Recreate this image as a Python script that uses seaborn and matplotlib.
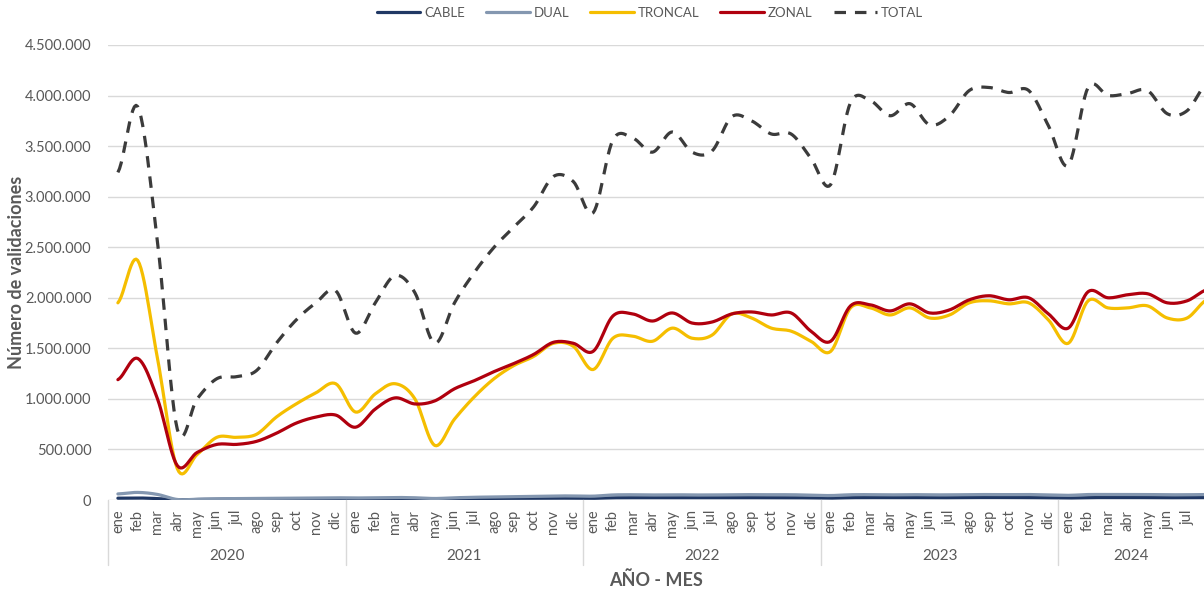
import numpy as np
import pandas as pd
import matplotlib
matplotlib.use("Agg")
import matplotlib.pyplot as plt
import matplotlib.transforms as mtrans
from matplotlib.ticker import FuncFormatter
import seaborn as sns

# ---------------- data ----------------
months = ["ene", "feb", "mar", "abr", "may", "jun", "jul", "ago", "sep", "oct", "nov", "dic"]
years = ["2020", "2021", "2022", "2023", "2024"]
months_2024 = 8  # ene..ago 2024

cable = [18, 20, 14, 2, 5, 8, 9, 10, 11, 12, 13, 13,
         12, 13, 14, 12, 10, 13, 15, 16, 17, 18, 19, 18,
         17, 22, 23, 22, 23, 22, 22, 23, 23, 23, 23, 21,
         19, 23, 24, 23, 24, 23, 23, 24, 25, 24, 24, 22,
         20, 24, 24, 24, 24, 23, 23, 24]
dual = [60, 75, 55, 5, 8, 12, 14, 15, 17, 19, 21, 22,
        20, 23, 25, 22, 15, 22, 27, 30, 33, 36, 40, 40,
        38, 50, 52, 50, 52, 50, 50, 52, 53, 52, 52, 48,
        44, 52, 53, 51, 53, 51, 51, 53, 54, 53, 54, 50,
        46, 54, 54, 54, 54, 52, 52, 54]
troncal = [1950, 2370, 1400, 310, 450, 620, 620, 650, 820, 950, 1060, 1150,
           870, 1050, 1150, 1000, 540, 800, 1020, 1200, 1330, 1420, 1550, 1520,
           1290, 1600, 1620, 1570, 1700, 1600, 1630, 1840, 1800, 1700, 1670, 1570,
           1470, 1900, 1900, 1830, 1900, 1800, 1830, 1950, 1970, 1940, 1950, 1780,
           1550, 1970, 1900, 1900, 1920, 1800, 1800, 1980]
zonal = [1190, 1400, 1000, 340, 470, 550, 550, 580, 660, 760, 820, 840,
         720, 900, 1010, 950, 980, 1100, 1180, 1270, 1350, 1440, 1560, 1550,
         1470, 1820, 1840, 1770, 1850, 1750, 1760, 1840, 1860, 1830, 1850, 1670,
         1570, 1920, 1930, 1870, 1940, 1850, 1880, 1980, 2020, 1980, 2000, 1840,
         1700, 2060, 2000, 2030, 2040, 1950, 1970, 2080]
total = [3240, 3890, 2550, 700, 1000, 1200, 1220, 1280, 1550, 1780, 1950, 2070,
         1650, 1950, 2220, 2050, 1550, 1950, 2250, 2500, 2700, 2900, 3200, 3150,
         2840, 3560, 3580, 3440, 3640, 3440, 3450, 3790, 3750, 3620, 3620, 3380,
         3120, 3930, 3950, 3800, 3920, 3710, 3800, 4050, 4080, 4030, 4050, 3700,
         3310, 4080, 4000, 4020, 4050, 3820, 3850, 4120]

series = {"CABLE": cable, "DUAL": dual, "TRONCAL": troncal, "ZONAL": zonal, "TOTAL": total}
colors = {"CABLE": "#203864", "DUAL": "#8497B0", "TRONCAL": "#F5BE00",
          "ZONAL": "#B0000E", "TOTAL": "#3B3B3B"}

month_labels = [m for y in years[:-1] for m in months] + months[:months_2024]
n = len(month_labels)


# smooth-line rendering (Excel-style smoothed line through each point)
def smooth(vals, k=12):
    v = np.asarray(vals, dtype=float)
    ext = np.concatenate([[v[0]], v, [v[-1]]])
    xs, ys = [], []
    for i in range(len(v) - 1):
        p0, p1, p2, p3 = ext[i], ext[i + 1], ext[i + 2], ext[i + 3]
        m1 = (p2 - p0) / 2.0
        m2 = (p3 - p1) / 2.0
        t = np.linspace(0, 1, k, endpoint=False)
        h00 = 2 * t**3 - 3 * t**2 + 1
        h10 = t**3 - 2 * t**2 + t
        h01 = -2 * t**3 + 3 * t**2
        h11 = t**3 - t**2
        xs.append(i + t)
        ys.append(h00 * p1 + h10 * m1 + h01 * p2 + h11 * m2)
    xs.append([len(v) - 1])
    ys.append([v[-1]])
    return np.concatenate(xs), np.concatenate(ys)


rows = []
for name, vals in series.items():
    xs, ys = smooth(vals)
    rows.append(pd.DataFrame({"serie": name, "x": xs, "y": ys * 1000.0}))
df = pd.concat(rows, ignore_index=True)

# ---------------- figure ----------------
sns.set_theme(style="white")
plt.rcParams["font.family"] = ["Lato", "DejaVu Sans"]
gray = "#595959"

fig = plt.figure(figsize=(12.04, 5.97), dpi=100)
ax = fig.add_axes([108 / 1204, 97 / 597, 1096 / 1204, 455 / 597])

sns.lineplot(data=df, x="x", y="y", hue="serie", style="serie",
             hue_order=list(series), style_order=list(series),
             palette=colors,
             dashes={"CABLE": "", "DUAL": "", "TRONCAL": "", "ZONAL": "", "TOTAL": (3.6, 2.8)},
             linewidth=2.3, estimator=None, sort=False, ax=ax)

x_right = -0.5 + 1096 / 19.8
ax.set_xlim(-0.5, x_right)
ax.set_ylim(0, 4_500_000)
ax.set_yticks(np.arange(0, 4_500_001, 500_000))
ax.yaxis.set_major_formatter(FuncFormatter(lambda v, p: f"{int(v):,}".replace(",", ".")))
ax.yaxis.grid(True, color="#D9D9D9", linewidth=1)
ax.xaxis.grid(False)
for s in ax.spines.values():
    s.set_visible(False)
ax.tick_params(axis="y", length=0, pad=12, labelsize=10.5, labelcolor=gray)

visible = [i for i in range(n) if i <= x_right - 0.3]
ax.set_xticks(visible)
ax.set_xticklabels([month_labels[i] for i in visible], rotation=90, fontsize=10.5,
                   color=gray, va="top")
ax.tick_params(axis="x", length=0, pad=7)
ax.set_xlabel("")
ax.set_ylabel("")

# year group labels and separators
trans = mtrans.blended_transform_factory(ax.transData, ax.transAxes)
sep_color = "#D9D9D9"
for i, yr in enumerate(years):
    start = i * 12 - 0.5
    end = min(start + 12, x_right)
    ax.plot([start, start], [0, -0.143], transform=trans, color=sep_color,
            linewidth=1, clip_on=False)
    ax.text((start + end) / 2, (500 - 556) / 455, yr, transform=trans, ha="center",
            va="center", fontsize=11, color=gray)

fig.text(656 / 1204, 1 - 580 / 597, "AÑO - MES", ha="center", va="center",
         fontsize=13, fontweight="bold", color=gray)
fig.text(17 / 1204, 1 - 272 / 597, "Número de validaciones", ha="center", va="center",
         rotation=90, fontsize=13, fontweight="bold", color=gray)

handles, labels = ax.get_legend_handles_labels()
ax.get_legend().remove()
fig.legend(handles, labels, loc="center", bbox_to_anchor=(650 / 1204, 1 - 13 / 597),
           ncol=5, frameon=False, fontsize=9.5, handlelength=3.3, handletextpad=0.3,
           columnspacing=1.6, labelcolor=gray)

fig.savefig("out.png", dpi=100)
